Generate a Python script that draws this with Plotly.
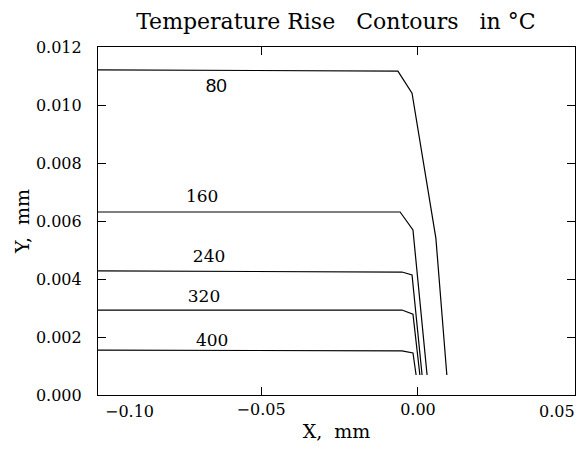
import plotly.graph_objects as go

# Contour levels (°C) and polyline vertices (mm)
levels = [80, 160, 240, 320, 400]
x_80 = [-0.102, -0.0064, -0.0019, 0.0057, 0.0092]
y_80 = [0.01121, 0.01117, 0.01041, 0.00541, 0.00069]
x_160 = [-0.102, -0.0057, -0.0016, 0.0029]
y_160 = [0.00631, 0.00631, 0.00569, 0.00069]
x_240 = [-0.102, -0.0051, -0.0019, 0.0013]
y_240 = [0.00428, 0.00424, 0.00414, 0.00069]
x_320 = [-0.102, -0.0051, -0.0016, 0.0006]
y_320 = [0.00293, 0.00293, 0.00279, 0.00069]
x_400 = [-0.102, -0.0051, -0.0016, -0.0006]
y_400 = [0.00155, 0.00152, 0.00145, 0.00069]

label_x = [-0.0643, -0.0688, -0.0666, -0.0682, -0.0656]
label_y = [0.01062, 0.00679, 0.00472, 0.00334, 0.00183]

x_ticks = [-0.10, -0.05, 0.00, 0.05]
x_ticktext = ["\u22120.10", "\u22120.05", "0.00", "0.05"]
y_ticks = [0.000, 0.002, 0.004, 0.006, 0.008, 0.010, 0.012]

serif = "DejaVu Serif"

fig = go.Figure()
for xs, ys in [(x_80, y_80), (x_160, y_160), (x_240, y_240), (x_320, y_320), (x_400, y_400)]:
    fig.add_trace(go.Scatter(x=xs, y=ys, mode="lines",
                             line=dict(color="black", width=1.2),
                             showlegend=False, hoverinfo="skip"))

fig.add_trace(go.Scatter(x=label_x, y=label_y, mode="text",
                         text=[str(v) for v in levels],
                         textfont=dict(family=["Liberation Sans"] + [serif] * 4,
                                       size=[19, 17, 17, 17, 17], color="black"),
                         showlegend=False, hoverinfo="skip"))

# end tick labels drawn shifted to stay inside the frame width
for xv, txt, shift in [(x_ticks[0], x_ticktext[0], 25), (x_ticks[-1], x_ticktext[-1], -18)]:
    fig.add_annotation(x=xv, y=0, xref="x", yref="y", text=txt,
                       showarrow=False, xshift=shift, yshift=-16,
                       font=dict(family=serif, size=16, color="black"))

fig.update_layout(
    width=581, height=449,
    margin=dict(l=98, r=6, t=47, b=54),
    paper_bgcolor="white", plot_bgcolor="white",
    title=dict(text="Temperature Rise\u00a0\u00a0\u00a0Contours\u00a0\u00a0\u00a0in\u00a0\u00b0C",
               x=0.578, xanchor="center", y=0.953, yanchor="middle",
               font=dict(family=serif, size=22, color="black")),
    xaxis=dict(range=[-0.102, 0.05005], tickvals=x_ticks[1:-1], ticktext=x_ticktext[1:-1],
               showgrid=False, zeroline=False, showline=True, linecolor="black",
               linewidth=1.2, mirror="ticks", ticks="inside", ticklen=8,
               tickcolor="black", automargin=False,
               tickfont=dict(family=serif, size=16, color="black"),
               title=dict(text="X,\u00a0\u00a0mm", standoff=6,
                          font=dict(family=serif, size=19, color="black"))),
    yaxis=dict(range=[0, 0.012], tickvals=y_ticks, tickformat=".3f",
               showgrid=False, zeroline=False, showline=True, linecolor="black",
               linewidth=1.2, mirror="ticks", ticks="inside", ticklen=8,
               tickcolor="black", automargin=False, ticklabelstandoff=12,
               tickfont=dict(family=serif, size=16, color="black"),
               title=dict(text="Y,\u00a0\u00a0mm", standoff=1,
                          font=dict(family=serif, size=19, color="black"))),
)

fig.write_html("out.html")
